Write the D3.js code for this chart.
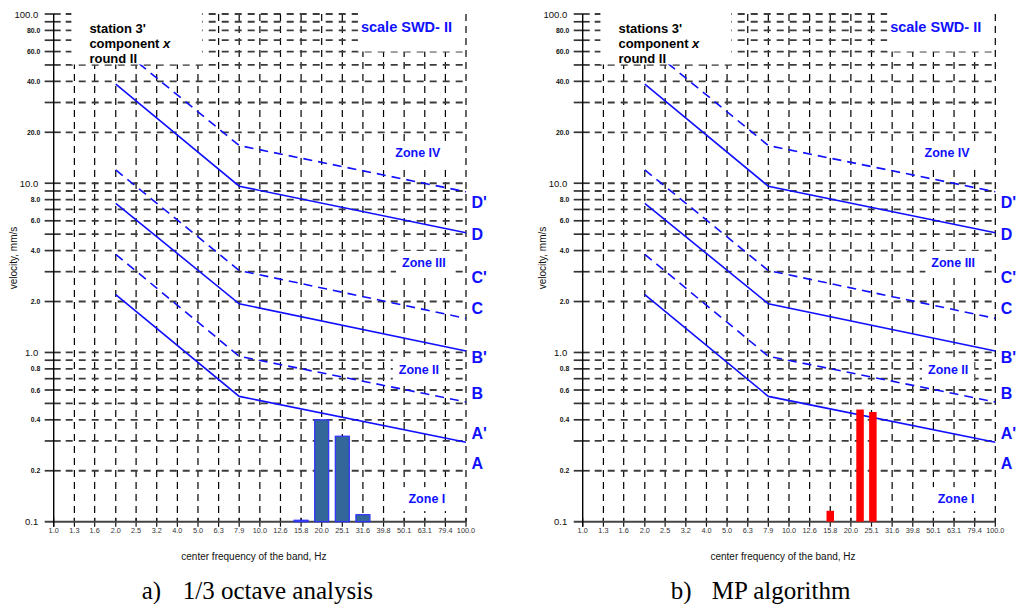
<!DOCTYPE html>
<html><head><meta charset="utf-8">
<script src="https://cdn.jsdelivr.net/npm/d3@7"></script>
<style>body{margin:0;background:#fff}svg{display:block}</style>
</head><body>
<svg id="c" width="1032" height="604"></svg>
<script>
// ---- data ----
const bandCenters = [1.0,1.26,1.58,2.0,2.51,3.16,3.98,5.01,6.31,7.94,10.0,12.59,15.85,19.95,25.12,31.62,39.81,50.12,63.10,79.43,100.0];
const bandLabels  = ["1.0","1.3","1.6","2.0","2.5","3.2","4.0","5.0","6.3","7.9","10.0","12.6","15.8","20.0","25.1","31.6","39.8","50.1","63.1","79.4","100.0"];
const gridVelocities = [0.1,0.2,0.3,0.4,0.5,0.6,0.7,0.8,0.9,1,2,3,4,5,6,7,8,9,10,20,30,40,50,60,70,80,90,100];
const decadeTicks  = [0.1,1,10,100];
const decadeLabels = ["0.1","1.0","10.0","100.0"];
const minorTicks   = [0.2,0.4,0.6,0.8,2,4,6,8,20,40,60,80];
const minorLabels  = ["0.2","0.4","0.6","0.8","2.0","4.0","6.0","8.0","20.0","40.0","60.0","80.0"];

const limitFreqs = [2.0, 7.94, 100];
const lineA      = [2.2, 0.55, 0.295];
const lineAB     = [3.8, 0.95, 0.51];
const lineBC     = [7.6, 1.94, 1.02];
const lineC2     = [12.0, 3.05, 1.59];
const lineD      = [38.5, 9.6, 5.1];
const lineD2     = [66, 16.7, 8.9];
const limitLines = [lineA, lineAB, lineBC, lineC2, lineD, lineD2];
const limitDashed = [false, true, false, true, false, true];

const edgeLabels = ["D'","D","C'","C","B'","B","A'","A"];
const edgeLabelVel = [7.65,4.95,2.76,1.83,0.928,0.576,0.334,0.222];

const zoneNames = ["Zone IV","Zone III","Zone II","Zone I"];
const zoneFreq  = [58.4, 62.5, 59.1, 64.6];
const zoneVel   = [15.1, 3.38, 0.788, 0.136];

const octaveFreqs = [15.85, 19.95, 25.12, 31.62];
const octaveVel   = [0.102, 0.40, 0.32, 0.11];
const mpFreqs = [15.85, 22.1, 25.5];
const mpVel   = [0.116, 0.46, 0.445];

const panels = [
  {x0:53.7, x1:466, title:["station 3'","component ","round II"], caption:["a)","1/3 octave analysis"],
   freqs:octaveFreqs, vels:octaveVel, fill:"#336699", stroke:"#2f2fff", bw:14},
  {x0:582.7, x1:995.3, title:["stations 3'","component ","round II"], caption:["b)","MP algorithm"],
   freqs:mpFreqs, vels:mpVel, fill:"#ff0000", stroke:"none", bw:7.5}
];

const svg = d3.select("#c");
const BLUE = "#1010ff";
const FONT = "Liberation Sans, Arial, sans-serif";
const y = d3.scaleLog().domain([0.1,100]).range([521.7,14]);

panels.forEach(p => {
  const x = d3.scaleLog().domain([1,100]).range([p.x0,p.x1]);
  const g = svg.append("g");
  const yb = y(0.1);

  // vertical grid
  g.selectAll(null).data(bandCenters.slice(1)).join("line")
    .attr("x1",d=>x(d)).attr("x2",d=>x(d)).attr("y1",y(100)).attr("y2",yb)
    .attr("stroke","#000").attr("stroke-width",1.2).attr("stroke-dasharray","7,5");
  // x tick marks
  g.selectAll(null).data(bandCenters).join("line")
    .attr("x1",d=>x(d)).attr("x2",d=>x(d)).attr("y1",yb-4).attr("y2",yb+5)
    .attr("stroke","#111").attr("stroke-width",1.2);
  // horizontal grid
  const hv = gridVelocities.filter(v=>v>0.1);
  g.selectAll(null).data(hv).join("line")
    .attr("x1",p.x0-9).attr("x2",p.x0+7).attr("y1",d=>y(d)).attr("y2",d=>y(d))
    .attr("stroke","#333").attr("stroke-width",1.7);
  g.selectAll(null).data(hv).join("line")
    .attr("x1",p.x0+12).attr("x2",p.x1).attr("y1",d=>y(d)).attr("y2",d=>y(d))
    .attr("stroke","#3c3c3c").attr("stroke-width",1.8).attr("stroke-dasharray","7,6");
  // axes
  g.append("line").attr("x1",p.x0-9).attr("x2",p.x1).attr("y1",yb).attr("y2",yb)
    .attr("stroke","#444").attr("stroke-width",2);
  g.append("line").attr("x1",p.x0).attr("x2",p.x0).attr("y1",y(100)).attr("y2",yb+5)
    .attr("stroke","#000").attr("stroke-width",1.4);

  // limit lines
  const line = d3.line().x((d,i)=>x(limitFreqs[i])).y(d=>y(d));
  limitLines.forEach((L,i)=>{
    g.append("path").attr("d",line(L)).attr("fill","none").attr("stroke",BLUE)
      .attr("stroke-width",1.6).attr("stroke-dasharray",limitDashed[i]?"9,6":null);
  });

  // bars
  g.selectAll(null).data(p.freqs).join("rect")
    .attr("x",d=>x(d)-p.bw/2).attr("width",p.bw)
    .attr("y",(d,i)=>y(p.vels[i])).attr("height",(d,i)=>yb-y(p.vels[i]))
    .attr("fill",p.fill).attr("stroke",p.stroke).attr("stroke-width",1.2);

  // white boxes
  g.append("rect").attr("x",x(1.26)-3).attr("y",0).attr("width",x(5.01)+4-(x(1.26)-3)).attr("height",y(50)-0.5)
    .attr("fill","#fff");
  g.append("rect").attr("x",x(31.62)-5).attr("y",0).attr("width",x(100)-3-(x(31.62)-5)).attr("height",y(60))
    .attr("fill","#fff");

  // title
  const t = g.append("text").attr("font-family",FONT)
    .attr("font-weight","bold").attr("font-size",13).attr("fill","#000");
  t.append("tspan").attr("x",x(1.26)+15).attr("y",33).text(p.title[0]);
  t.append("tspan").attr("x",x(1.26)+15).attr("y",48).text(p.title[1]);
  t.append("tspan").attr("font-style","italic").text("x");
  t.append("tspan").attr("x",x(1.26)+15).attr("y",63).text(p.title[2]);

  g.append("text").attr("x",x(31.62)-2).attr("y",32)
    .attr("font-family",FONT).attr("font-weight","bold")
    .attr("font-size",14.5).attr("fill",BLUE).text("scale SWD- II");

  // zone labels with white background
  zoneNames.forEach((z,i)=>{
    const tx = g.append("text").attr("x",x(zoneFreq[i])).attr("y",y(zoneVel[i]))
      .attr("text-anchor","middle").attr("dominant-baseline","central")
      .attr("font-family",FONT).attr("font-weight","bold")
      .attr("font-size",12.5).attr("fill",BLUE).text(z);
    const bb = tx.node().getBBox();
    g.insert("rect", function(){return tx.node();})
      .attr("x",bb.x-6).attr("y",bb.y-5).attr("width",bb.width+12).attr("height",bb.height+10)
      .attr("fill","#fff");
  });

  // edge labels
  g.selectAll(null).data(edgeLabels).join("text")
    .attr("x",p.x1+5.5).attr("y",(d,i)=>y(edgeLabelVel[i]))
    .attr("dominant-baseline","central")
    .attr("font-family",FONT).attr("font-weight","bold")
    .attr("font-size",16).attr("fill",BLUE).text(d=>d);

  // y tick labels
  g.selectAll(null).data(decadeTicks).join("text")
    .attr("x",p.x0-15.5).attr("y",d=>y(d)).attr("text-anchor","end").attr("dominant-baseline","central")
    .attr("font-family",FONT).attr("font-size",9.5).attr("fill","#111")
    .text((d,i)=>decadeLabels[i]);
  g.selectAll(null).data(minorTicks).join("text")
    .attr("x",p.x0-13.5).attr("y",d=>y(d)).attr("text-anchor","end").attr("dominant-baseline","central")
    .attr("font-family",FONT).attr("font-weight","bold")
    .attr("font-size",6.8).attr("fill","#111")
    .text((d,i)=>minorLabels[i]);

  // x tick labels
  g.selectAll(null).data(bandCenters).join("text")
    .attr("x",d=>x(d)).attr("y",yb+8.5).attr("text-anchor","middle").attr("dominant-baseline","central")
    .attr("font-family",FONT).attr("font-size",7.3).attr("fill","#333")
    .text((d,i)=>bandLabels[i]);

  // axis titles
  g.append("text").attr("x",(p.x0+p.x1)/2-6).attr("y",556).attr("text-anchor","middle")
    .attr("dominant-baseline","central")
    .attr("font-family",FONT).attr("font-size",10).attr("fill","#111")
    .text("center frequency of the band, Hz");
  g.append("text").attr("transform",`translate(${p.x0-40.5},258) rotate(-90)`).attr("text-anchor","middle")
    .attr("dominant-baseline","central")
    .attr("font-family",FONT).attr("font-size",10).attr("fill","#111")
    .text("velocity, mm/s");

  // caption
  g.append("text").attr("x",p.x0+88).attr("y",599)
    .attr("font-family","Liberation Serif, Times New Roman, serif").attr("font-size",25).attr("fill","#000")
    .text(p.caption[0]);
  g.append("text").attr("x",p.x0+129).attr("y",599)
    .attr("font-family","Liberation Serif, Times New Roman, serif").attr("font-size",25).attr("fill","#000")
    .text(p.caption[1]);
});
</script>
</body></html>
